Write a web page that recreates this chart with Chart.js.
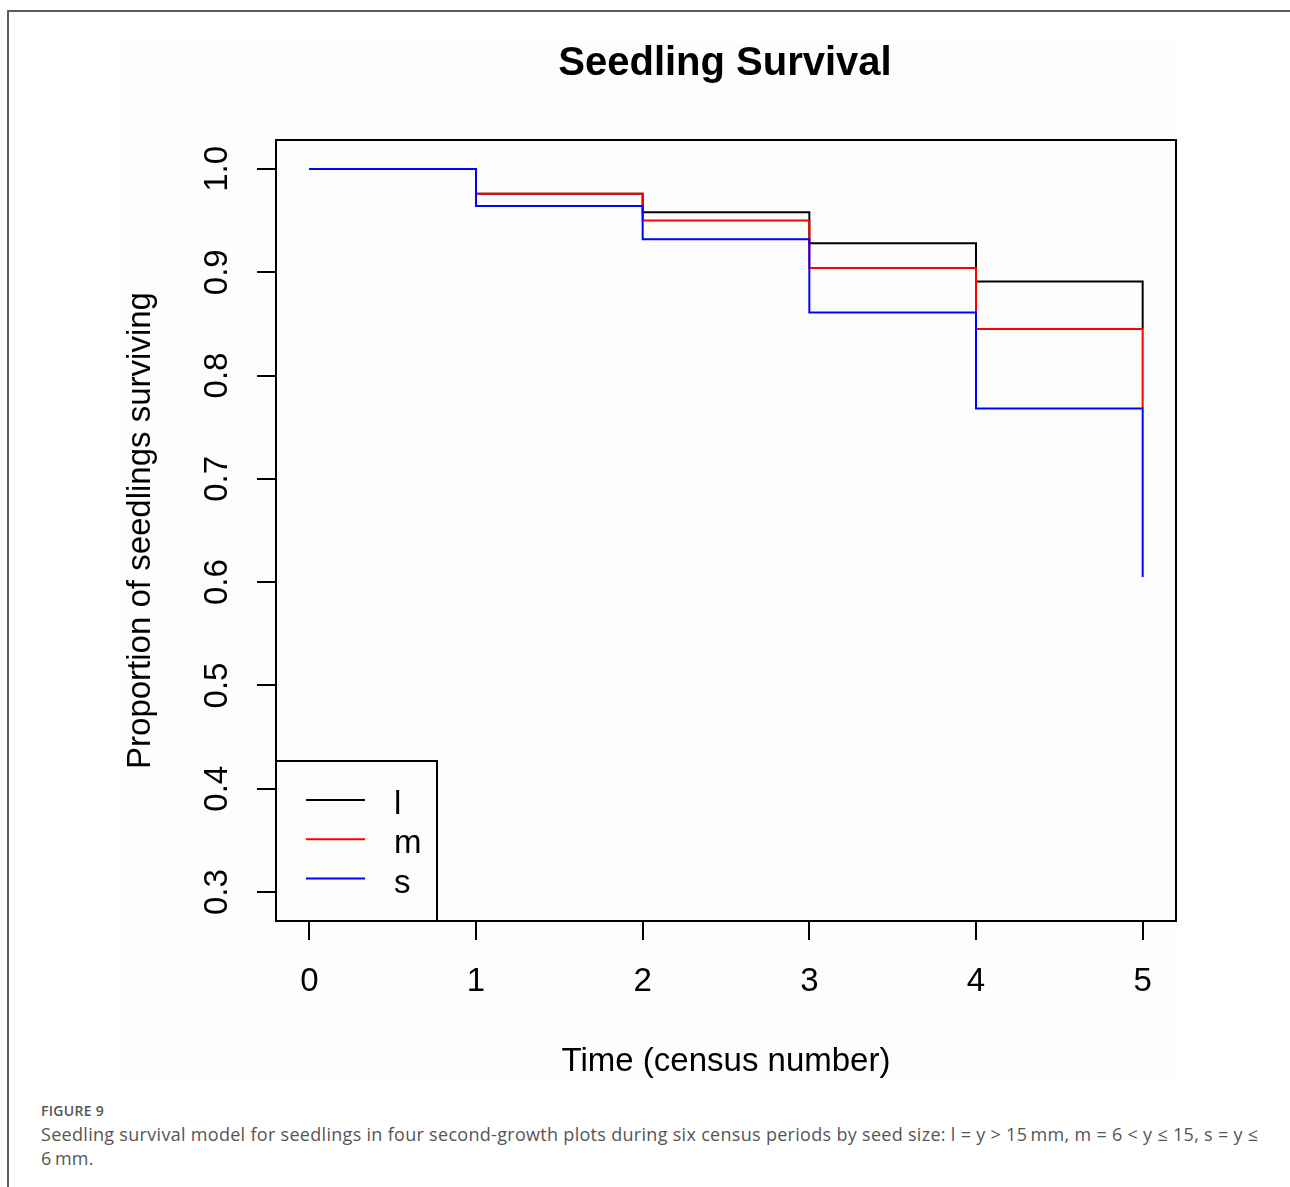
<!DOCTYPE html>
<html>
<head>
<meta charset="utf-8">
<script src="https://cdn.jsdelivr.net/npm/chart.js@4.4.1/dist/chart.umd.min.js"></script>
<style>
  body { margin: 0; background: #fff; width: 1290px; height: 1187px; overflow: hidden; position: relative; }
  #frame { position: absolute; left: 7px; top: 10px; right: 0; bottom: 0; border-top: 2px solid #5c5c5c; border-left: 2px solid #5c5c5c; }
  #panel { position: absolute; left: 120px; top: 43px; width: 1058px; height: 1039px; background: #fdfdfd; }
  #wrap { position: absolute; left: 0; top: 0; width: 1290px; height: 1095px; }
  #caption { position: absolute; left: 41px; top: 1100px; color: #555; font-family: "Open Sans", "Noto Sans", sans-serif; white-space: nowrap; }
  #caption .fig { font-size: 14px; font-weight: 600; line-height: 22px; letter-spacing: 0.3px; }
  #caption .txt { font-size: 18px; line-height: 24px; letter-spacing: 0.3px; }
</style>
</head>
<body>
<div id="frame"></div>
<div id="panel"></div>
<div id="wrap"><canvas id="survivalChart" width="1290" height="1095"></canvas></div>
<div id="caption">
  <div class="fig">FIGURE 9</div>
  <div class="txt">Seedling survival model for seedlings in four second-growth plots during six census periods by seed size: l = y &gt; 15&#8201;mm, m = 6 &lt; y ≤ 15, s = y ≤<br>6&#8201;mm.</div>
</div>
<script>
// Kaplan-Meier style survival per seed size class
const censusTimes = [0, 1, 2, 3, 4, 5];
const seriesLabels = ['l', 'm', 's'];
const seriesColors = ['#000000', '#ff0000', '#0000ff'];
const largeSurvival = [1.0, 0.976, 0.958, 0.928, 0.891, 0.845];
const mediumSurvival = [1.0, 0.976, 0.950, 0.904, 0.845, 0.768];
const smallSurvival = [1.0, 0.964, 0.932, 0.861, 0.768, 0.605];
const yTickValues = [0.3, 0.4, 0.5, 0.6, 0.7, 0.8, 0.9, 1.0];
const yTickLabels = ['0.3', '0.4', '0.5', '0.6', '0.7', '0.8', '0.9', '1.0'];

const chartTitle = 'Seedling Survival';
const xTitle = 'Time (census number)';
const yTitle = 'Proportion of seedlings surviving';
const FONT = '"Liberation Sans", Arial, sans-serif';

const seriesValues = [largeSurvival, mediumSurvival, smallSurvival];

function toPoints(vals) {
  return censusTimes.map((t, i) => ({ x: t, y: vals[i] }));
}

// R-like decorations: box, rotated y labels, titles, legend
const rDecor = {
  id: 'rDecor',
  afterDraw(chart) {
    const ctx = chart.ctx;
    const a = chart.chartArea;
    const ys = chart.scales.y;
    const cx = (a.left + a.right) / 2;
    ctx.save();
    ctx.strokeStyle = '#000';
    ctx.lineWidth = 2;
    ctx.strokeRect(a.left, a.top, a.right - a.left, a.bottom - a.top);

    ctx.fillStyle = '#000';
    ctx.font = '33px ' + FONT;
    ctx.textAlign = 'center';
    ctx.textBaseline = 'alphabetic';
    yTickValues.forEach((v, i) => {
      const py = ys.getPixelForValue(v);
      ctx.save();
      ctx.translate(a.left - 49, py);
      ctx.rotate(-Math.PI / 2);
      ctx.fillText(yTickLabels[i], 0, 0);
      ctx.restore();
    });

    ctx.save();
    ctx.translate(a.left - 126, (a.top + a.bottom) / 2);
    ctx.rotate(-Math.PI / 2);
    ctx.fillText(yTitle, 0, 0);
    ctx.restore();

    ctx.fillText(xTitle, cx, a.bottom + 150);

    ctx.font = 'bold 40px ' + FONT;
    ctx.fillText(chartTitle, cx - 1, 75);

    // legend in bottom-left corner
    const lx = a.left, ly = 761;
    ctx.strokeRect(lx, ly, 161, a.bottom - ly);
    ctx.font = '33px ' + FONT;
    ctx.textAlign = 'left';
    seriesLabels.forEach((lab, i) => {
      const yy = ly + 39 + i * 39.3;
      ctx.strokeStyle = seriesColors[i];
      ctx.beginPath();
      ctx.moveTo(lx + 30, yy);
      ctx.lineTo(lx + 89, yy);
      ctx.stroke();
      ctx.fillText(lab, lx + 118, yy + 14);
    });
    ctx.restore();
  }
};

new Chart(document.getElementById('survivalChart'), {
  type: 'line',
  data: {
    datasets: seriesLabels.map((lab, i) => ({
      label: lab,
      data: toPoints(seriesValues[i]),
      borderColor: seriesColors[i],
      borderWidth: 2,
      stepped: 'before',
      pointRadius: 0,
      fill: false,
      order: 3 - i
    }))
  },
  options: {
    responsive: false,
    animation: false,
    layout: { padding: { left: 257, right: 114, top: 140, bottom: 94 } },
    plugins: { legend: { display: false }, tooltip: { enabled: false } },
    scales: {
      x: {
        type: 'linear',
        min: -0.2,
        max: 5.2,
        afterBuildTicks: s => { s.ticks = censusTimes.map(v => ({ value: v })); },
        afterFit: s => { s.height = 80; },
        grid: { drawOnChartArea: false, drawTicks: true, tickLength: 19, color: '#000', lineWidth: 2 },
        border: { display: false },
        ticks: { color: '#000', padding: 22, maxRotation: 0, font: { family: FONT, size: 33 } }
      },
      y: {
        type: 'linear',
        min: 0.272,
        max: 1.028,
        afterBuildTicks: s => { s.ticks = yTickValues.map(v => ({ value: v })); },
        afterFit: s => { s.width = 19; },
        grid: { drawOnChartArea: false, drawTicks: true, tickLength: 19, color: '#000', lineWidth: 2 },
        border: { display: false },
        ticks: { display: false }
      }
    }
  },
  plugins: [rDecor]
});
</script>
</body>
</html>
